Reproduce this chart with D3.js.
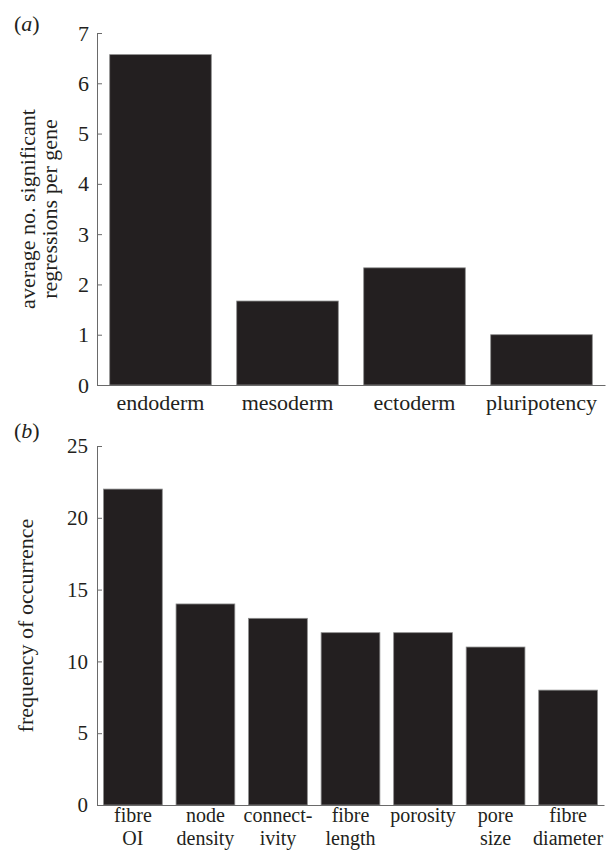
<!DOCTYPE html>
<html>
<head>
<meta charset="utf-8">
<script src="https://cdn.jsdelivr.net/npm/d3@7"></script>
<style>
    body { margin: 0; background: #fff; }
    svg { display: block; font-family: 'Liberation Serif', 'Times New Roman', serif; }
    .axis path, .axis line { stroke: #6a6a6a; stroke-width: 1px; }
    .axis text { fill: #231f20; }
    .bar { fill: #231f20; stroke: #8c8c8c; stroke-width: 0.8px; }
</style>
</head>
<body>
<svg id="chart-svg" width="610" height="850"></svg>
<script>
// panel (a)
const layerNames = ['endoderm', 'mesoderm', 'ectoderm', 'pluripotency'];
const layerValues = [6.57, 1.67, 2.33, 1.0];
const layerTicks = [0, 1, 2, 3, 4, 5, 6, 7];

// panel (b)
const featureNames = ['fibre OI', 'node density', 'connectivity', 'fibre length', 'porosity', 'pore size', 'fibre diameter'];
const featureLabels = [['fibre', 'OI'], ['node', 'density'], ['connect-', 'ivity'], ['fibre', 'length'], ['porosity'], ['pore', 'size'], ['fibre', 'diameter']];
const featureValues = [22, 14, 13, 12, 12, 11, 8];
const featureTicks = [0, 5, 10, 15, 20, 25];

window.addEventListener('load', function() {
    console.log("window loaded.");
    const svg = d3.select('#chart-svg');
    drawPanelA(svg);
    drawPanelB(svg);
});

function drawPanelA(svg)
{
    console.log("drawPanelA()");
    const x = d3.scaleBand().domain(layerNames).range([97, 605])
        .paddingInner(0.2).paddingOuter(0.1);
    const y = d3.scaleLinear().domain([0, 7]).range([385, 33]);
    const g = svg.append('g').attr('id', 'panelA');

    g.selectAll('rect')
        .data(layerNames)
        .join('rect')
            .classed('bar', true)
            .attr('x', d => x(d))
            .attr('y', (d, i) => y(layerValues[i]))
            .attr('width', x.bandwidth())
            .attr('height', (d, i) => y(0) - y(layerValues[i]));

    g.append('g').classed('axis', true)
        .attr('transform', `translate(0,${y(0)})`)
        .call(d3.axisBottom(x).tickSize(0).tickSizeOuter(0).tickPadding(9.5))
        .attr('font-family', null).attr('font-size', 22);

    g.append('g').classed('axis', true)
        .attr('transform', `translate(${x.range()[0]},0)`)
        .call(d3.axisLeft(y).tickValues(layerTicks).tickFormat(d3.format('d'))
            .tickSize(-5).tickSizeOuter(0).tickPadding(8))
        .attr('font-family', null).attr('font-size', 22);

    // y label, two lines
    const lab = g.append('text')
        .attr('transform', 'rotate(-90)')
        .attr('text-anchor', 'middle')
        .style('font-size', '22px')
        .style('fill', '#231f20');
    lab.append('tspan').attr('x', -y(3.5)).attr('y', 35).text('average no. significant');
    lab.append('tspan').attr('x', -y(3.5)).attr('y', 57).text('regressions per gene');

    panelLabel(svg, 'a', 14, 31);
}

function drawPanelB(svg)
{
    console.log("drawPanelB()");
    const x = d3.scaleBand().domain(featureNames).range([97, 604])
        .paddingInner(0.19).paddingOuter(0.09);
    const y = d3.scaleLinear().domain([0, 25]).range([805, 446]);
    const g = svg.append('g').attr('id', 'panelB');

    g.selectAll('rect')
        .data(featureNames)
        .join('rect')
            .classed('bar', true)
            .attr('x', d => x(d))
            .attr('y', (d, i) => y(featureValues[i]))
            .attr('width', x.bandwidth())
            .attr('height', (d, i) => y(0) - y(featureValues[i]));

    const xAxisG = g.append('g').classed('axis', true)
        .attr('transform', `translate(0,${y(0)})`)
        .call(d3.axisBottom(x).tickSize(0).tickSizeOuter(0).tickPadding(3))
        .attr('font-family', null).attr('font-size', 20);
    //split tick labels into two lines
    xAxisG.selectAll('text')
        .text(null)
        .each(function(d) {
            const lines = featureLabels[featureNames.indexOf(d)];
            const t = d3.select(this);
            lines.forEach((s, i) => {
                t.append('tspan').attr('x', 0).attr('dy', i === 0 ? '0.71em' : 23).text(s);
            });
        });

    g.append('g').classed('axis', true)
        .attr('transform', `translate(${x.range()[0]},0)`)
        .call(d3.axisLeft(y).tickValues(featureTicks).tickSize(-5).tickSizeOuter(0).tickPadding(9))
        .attr('font-family', null).attr('font-size', 21);

    g.append('text')
        .attr('transform', 'rotate(-90)')
        .attr('x', -y(12.5))
        .attr('y', 33)
        .attr('text-anchor', 'middle')
        .style('font-size', '22px')
        .style('fill', '#231f20')
        .text('frequency of occurrence');

    panelLabel(svg, 'b', 14, 438);
}

/**
 * Draws a panel label like (a)
 */
function panelLabel(svg, letter, px, py)
{
    const t = svg.append('text')
        .attr('x', px)
        .attr('y', py)
        .style('font-size', '22px')
        .style('fill', '#231f20');
    t.append('tspan').text('(');
    t.append('tspan').style('font-style', 'italic').text(letter);
    t.append('tspan').text(')');
}
</script>
</body>
</html>
